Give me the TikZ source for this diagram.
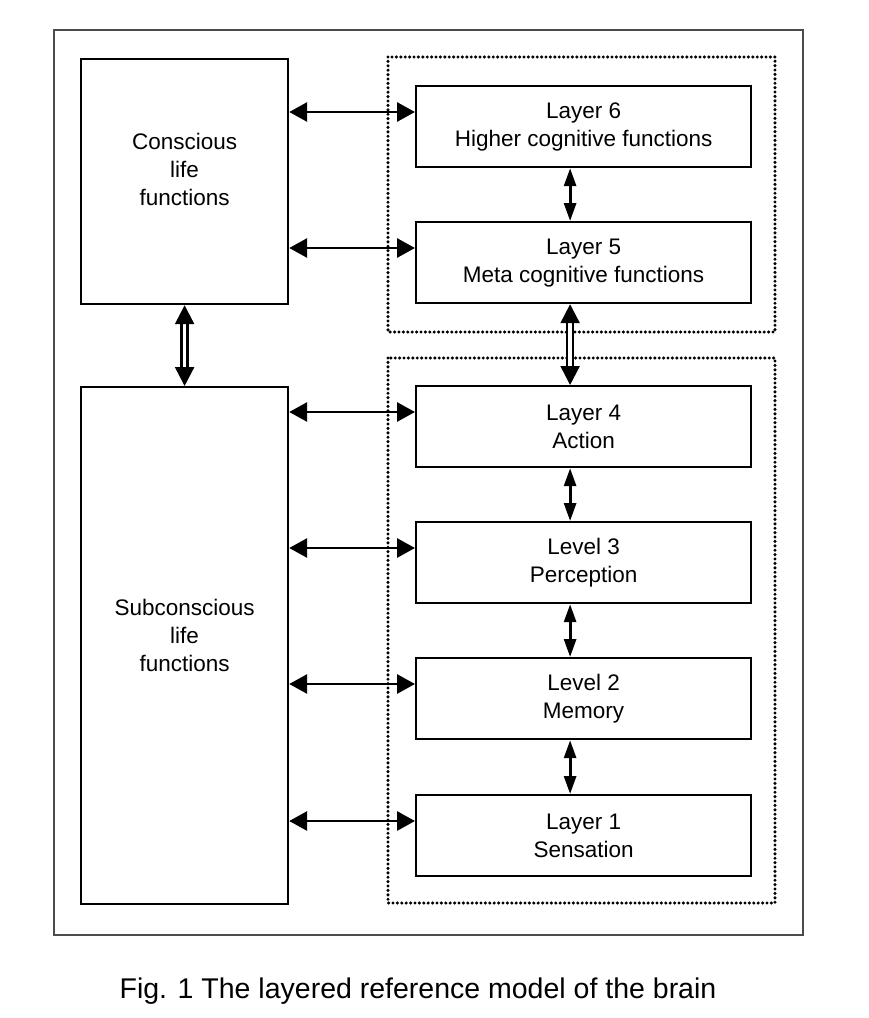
\documentclass[tikz,border=0pt]{standalone}
\usepackage{fontspec}
\setmainfont{Liberation Sans}
\usetikzlibrary{calc}
\usetikzlibrary{arrows.meta}
\newcommand{\layerwd}{335pt}
\newcommand{\layerht}{81pt}
\newcommand{\lifewd}{207pt}
\newcommand{\arrowdy}{27}
\newcommand{\arrowdx}{-13.5pt}

\begin{document}
\begin{tikzpicture}[x=1pt,y=-1pt,font=\fontsize{22.5}{28}\selectfont,
    layerbox/.style={draw,line width=2.2pt,minimum width=\layerwd,
      minimum height=\layerht,anchor=north west,align=center,inner sep=0pt},
    lifebox/.style={draw,line width=2.2pt,minimum width=\lifewd,
      anchor=north west,inner sep=0pt},
    groupbox/.style={line width=3.4pt,dash pattern=on 0pt off 4.4pt,line cap=round},
    hlink/.style={line width=2.9pt,
      {Triangle[length=18pt,width=19pt]}-{Triangle[length=18pt,width=19pt]}},
    vlink/.style={line width=2.9pt,
      {Triangle[length=18pt,width=12pt]}-{Triangle[length=18pt,width=12pt]}},
    dlink/.style={double,line width=2.4pt,double distance=3.5pt,
      {Triangle[length=19pt,width=19pt]}-{Triangle[length=19pt,width=19pt]}}]
    \useasboundingbox (0,0) rectangle (868,1018);
    % outer frame
    \draw[line width=1.6pt,black!70] (54,30) rectangle (803,935);
    % layer groups
    \draw[groupbox] (388,57) rectangle (775,332);
    \draw[groupbox] (388,358) rectangle (775,903);
    % life functions
    \node[lifebox,minimum height=245pt,
      label={[align=center,yshift=12pt]center:Conscious\\life\\functions}]
      (cons) at (80,58) {};
    \node[lifebox,minimum height=517pt,
      label={[align=center,yshift=10pt]center:Subconscious\\life\\functions}]
      (subcons) at (80,386) {};
    % layers
    \node[layerbox] (l6) at (415,85) {Layer 6\\Higher cognitive functions};
    \node[layerbox] (l5) at (415,221) {Layer 5\\Meta cognitive functions};
    \node[layerbox] (l4) at (415,385) {Layer 4\\Action};
    \node[layerbox] (l3) at (415,521) {Level 3\\Perception};
    \node[layerbox] (l2) at (415,657) {Level 2\\Memory};
    \node[layerbox] (l1) at (415,794) {Layer 1\\Sensation};
    \coordinate (l6in) at ($(l6.north west)+(0,\arrowdy)$);
    \coordinate (l5in) at ($(l5.north west)+(0,\arrowdy)$);
    \coordinate (l4in) at ($(l4.north west)+(0,\arrowdy)$);
    \coordinate (l3in) at ($(l3.north west)+(0,\arrowdy)$);
    \coordinate (l2in) at ($(l2.north west)+(0,\arrowdy)$);
    \coordinate (l1in) at ($(l1.north west)+(0,\arrowdy)$);
    \begin{scope}
      \draw[hlink] (cons.east |- l6in) -- (l6in);
      \draw[hlink] (cons.east |- l5in) -- (l5in);
      \draw[hlink] (subcons.east |- l4in) -- (l4in);
      \draw[hlink] (subcons.east |- l3in) -- (l3in);
      \draw[hlink] (subcons.east |- l2in) -- (l2in);
      \draw[hlink] (subcons.east |- l1in) -- (l1in);
    \end{scope}
    \begin{scope}
      \draw[vlink] ([xshift=\arrowdx]l6.south) -- ([xshift=\arrowdx]l5.north);
      \draw[vlink] ([xshift=\arrowdx]l4.south) -- ([xshift=\arrowdx]l3.north);
      \draw[vlink] ([xshift=\arrowdx]l3.south) -- ([xshift=\arrowdx]l2.north);
      \draw[vlink] ([xshift=\arrowdx]l2.south) -- ([xshift=\arrowdx]l1.north);
      \draw[dlink] ([xshift=\arrowdx]l5.south) -- ([xshift=\arrowdx]l4.north);
      \draw[dlink] (cons) -- (subcons);
    \end{scope}
    \node[font=\fontsize{28.5}{34}\selectfont] (caption) at (418,991)
      {Fig. 1 The layered reference model of the brain};
  \end{tikzpicture}
\end{document}
